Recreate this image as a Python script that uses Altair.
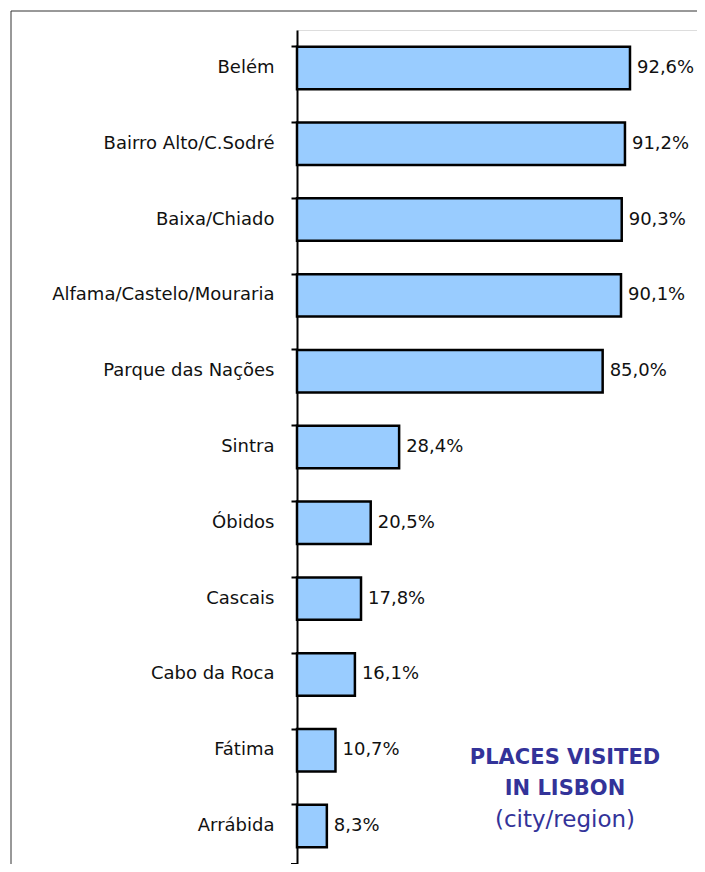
import altair as alt
import pandas as pd

places = ["Belém", "Bairro Alto/C.Sodré", "Baixa/Chiado", "Alfama/Castelo/Mouraria",
          "Parque das Nações", "Sintra", "Óbidos", "Cascais", "Cabo da Roca", "Fátima", "Arrábida"]
values = [92.6, 91.2, 90.3, 90.1, 85.0, 28.4, 20.5, 17.8, 16.1, 10.7, 8.3]
labels = ["92,6%", "91,2%", "90,3%", "90,1%", "85,0%", "28,4%", "20,5%", "17,8%", "16,1%", "10,7%", "8,3%"]
title_lines = ["PLACES VISITED", "IN LISBON", "(city/region)"]

df = pd.DataFrame({"place": places, "value": values, "label": labels})

FONT = "DejaVu Sans"
W, H = 400, 834

y = alt.Y("place:N", sort=places,
          scale=alt.Scale(paddingInner=0.44, paddingOuter=0.22),
          axis=alt.Axis(title=None, bandPosition=0, tickSize=6, tickWidth=2, tickColor="black",
                        domainColor="black", domainWidth=2, labelFont=FONT, labelFontSize=18,
                        labelColor="#111", labelPadding=17, labelLimit=300))
x = alt.X("value:Q", scale=alt.Scale(domain=[0, 400 / 3.596]), axis=None)

bars = alt.Chart(df).mark_bar(fill="#99ccff", stroke="black", strokeWidth=2.5).encode(x=x, y=y)
text = alt.Chart(df).mark_text(align="left", baseline="middle", dx=7, font=FONT, fontSize=18,
                               color="#111").encode(x=x, y=y, text="label:N")

end_tick = alt.Chart(df.head(1)).mark_rule(color="black", strokeWidth=2).encode(
    x=alt.value(-6), x2=alt.value(0), y=alt.value(H), y2=alt.value(H))
frame_top = alt.Chart(df.head(1)).mark_rule(color="#333", strokeWidth=1).encode(
    x=alt.value(-286), x2=alt.value(W + 20), y=alt.value(-19), y2=alt.value(-19))
frame_left = alt.Chart(df.head(1)).mark_rule(color="#333", strokeWidth=1).encode(
    x=alt.value(-286), x2=alt.value(-286), y=alt.value(-19), y2=alt.value(H + 20))

tdf = pd.DataFrame({"t": title_lines})
t1 = alt.Chart(tdf.iloc[[0]]).mark_text(font=FONT, fontSize=21, fontWeight="bold", color="#333399").encode(
    x=alt.value(268), y=alt.value(728), text="t:N")
t2 = alt.Chart(tdf.iloc[[1]]).mark_text(font=FONT, fontSize=21, fontWeight="bold", color="#333399").encode(
    x=alt.value(268), y=alt.value(759), text="t:N")
t3 = alt.Chart(tdf.iloc[[2]]).mark_text(font=FONT, fontSize=23, color="#333399").encode(
    x=alt.value(268), y=alt.value(790), text="t:N")

chart = alt.layer(frame_top, frame_left, bars, text, end_tick, t1, t2, t3).properties(
    width=W, height=H,
    autosize=alt.AutoSizeParams(type="none"),
    padding={"left": 289, "top": 22, "right": 0, "bottom": 0},
).configure_view(strokeWidth=0, stroke="transparent").configure(background="white")

chart.save("out.html", embed_options={"renderer": "svg", "actions": False})
